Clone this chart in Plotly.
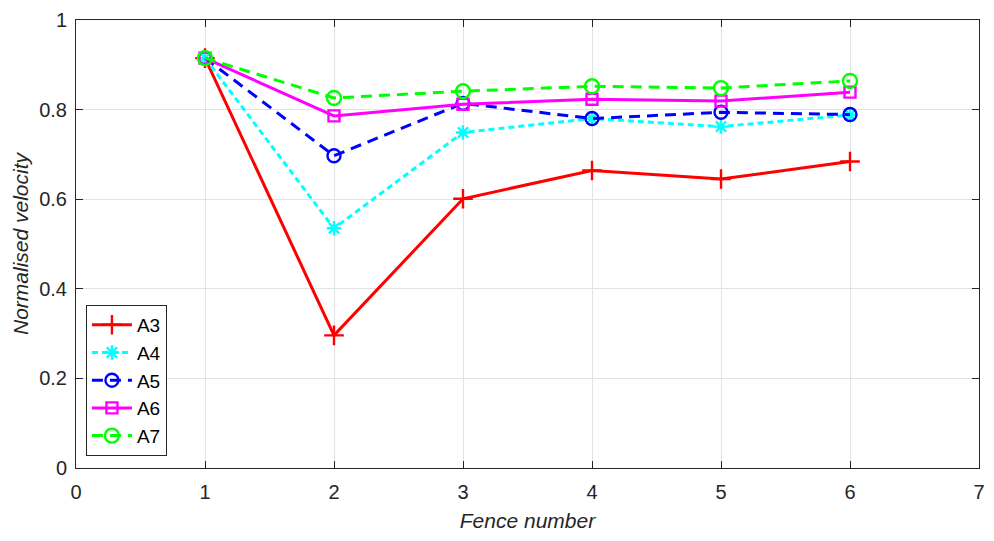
import plotly.graph_objects as go

# Fence positions and normalised velocity for each array configuration
fence = [1, 2, 3, 4, 5, 6]
a3 = [0.915, 0.296, 0.601, 0.664, 0.645, 0.684]
a4 = [0.915, 0.535, 0.749, 0.780, 0.762, 0.788]
a5 = [0.915, 0.697, 0.814, 0.780, 0.794, 0.789]
a6 = [0.915, 0.786, 0.812, 0.823, 0.819, 0.839]
a7 = [0.915, 0.826, 0.841, 0.852, 0.848, 0.864]

x_ticks = [0, 1, 2, 3, 4, 5, 6, 7]
y_ticks = [0, 0.2, 0.4, 0.6, 0.8, 1]
y_tick_text = ["0", "0.2", "0.4", "0.6", "0.8", "1"]

series = [
    ("A3", a3, "#ff0000", "solid", "cross-thin-open", 14),
    ("A4", a4, "#00ffff", "6px,4px", "asterisk-open", 12),
    ("A5", a5, "#0000ff", "11px,7px", "circle-open", 13),
    ("A6", a6, "#ff00ff", "solid", "square-open", 11),
    ("A7", a7, "#00ff00", "11px,7px", "circle-open", 14),
]

FONT = "Liberation Sans, Arial, sans-serif"

fig = go.Figure()
for name, vals, color, dash, symbol, size in series:
    fig.add_trace(go.Scatter(
        x=fence, y=vals, name=name, mode="lines+markers",
        line=dict(color=color, width=3, dash=dash),
        marker=dict(symbol=symbol, size=size, color=color,
                    line=dict(color=color, width=2.4)),
    ))

axis_common = dict(
    showgrid=True, gridcolor="#e3e3e3", gridwidth=1,
    showline=True, linecolor="#262626", linewidth=1, mirror="ticks",
    ticks="inside", ticklen=7, tickcolor="#262626",
    zeroline=False,
    tickfont=dict(family=FONT, size=20, color="#262626"),
)

fig.update_layout(
    width=994, height=541,
    margin=dict(l=76, r=9, t=17, b=73),
    paper_bgcolor="white", plot_bgcolor="white",
    xaxis=dict(range=[0, 7], tickvals=x_ticks, ticklabelstandoff=6,
               title=dict(text="<i>Fence number</i>", standoff=11,
                          font=dict(family=FONT, size=21, color="#262626")),
               **axis_common),
    yaxis=dict(range=[0, 1], tickvals=y_ticks, ticktext=y_tick_text,
               ticklabelstandoff=4,
               title=dict(text="<i>Normalised velocity</i>", standoff=4,
                          font=dict(family=FONT, size=21, color="#262626")),
               **axis_common),
    legend=dict(x=0.011, y=0.364, xanchor="left", yanchor="top",
                bgcolor="white", bordercolor="#262626", borderwidth=1,
                font=dict(family=FONT, size=19, color="#000000"),
                itemwidth=40, tracegroupgap=0),
    showlegend=True,
)

fig.write_html("out.html")
